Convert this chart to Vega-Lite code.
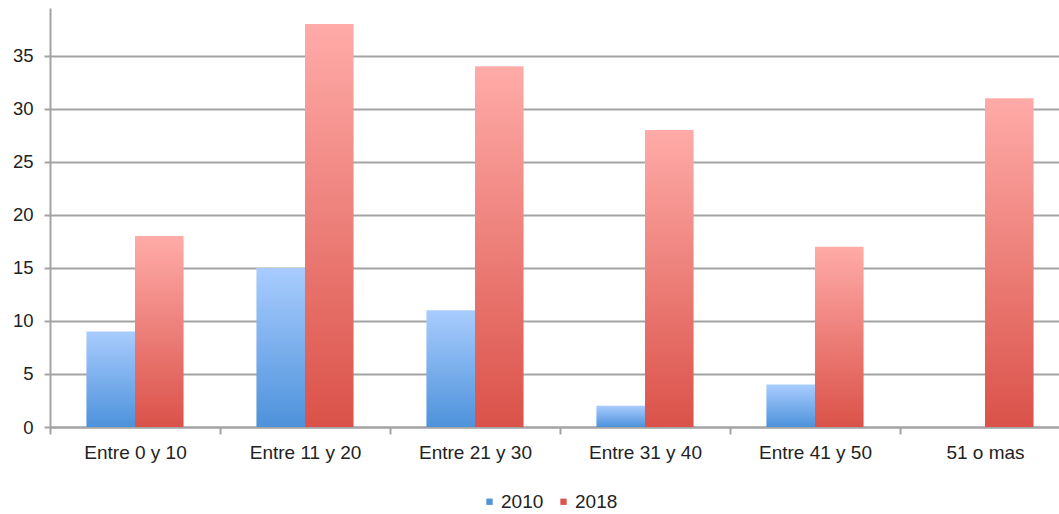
{
  "$schema": "https://vega.github.io/schema/vega-lite/v6.json",
  "width": 1020,
  "height": 419,
  "autosize": {"type": "none"},
  "padding": {"left": 50, "top": 8, "right": -11, "bottom": 87},
  "background": "white",
  "data": {
    "values": [
      {"grupo": "Entre 0 y 10", "anio": "2010", "valor": 9},
      {"grupo": "Entre 0 y 10", "anio": "2018", "valor": 18},
      {"grupo": "Entre 11 y 20", "anio": "2010", "valor": 15},
      {"grupo": "Entre 11 y 20", "anio": "2018", "valor": 38},
      {"grupo": "Entre 21 y 30", "anio": "2010", "valor": 11},
      {"grupo": "Entre 21 y 30", "anio": "2018", "valor": 34},
      {"grupo": "Entre 31 y 40", "anio": "2010", "valor": 2},
      {"grupo": "Entre 31 y 40", "anio": "2018", "valor": 28},
      {"grupo": "Entre 41 y 50", "anio": "2010", "valor": 4},
      {"grupo": "Entre 41 y 50", "anio": "2018", "valor": 17},
      {"grupo": "51 o mas", "anio": "2018", "valor": 31}
    ]
  },
  "encoding": {
    "x": {
      "field": "grupo",
      "type": "nominal",
      "sort": ["Entre 0 y 10", "Entre 11 y 20", "Entre 21 y 30", "Entre 31 y 40", "Entre 41 y 50", "51 o mas"],
      "scale": {"paddingInner": 0, "paddingOuter": 0},
      "axis": {
        "title": null,
        "labelAngle": 0,
        "tickBand": "extent",
        "tickSize": 7,
        "tickWidth": 2,
        "tickColor": "#a3a3a3",
        "domainColor": "#a3a3a3",
        "domainWidth": 2,
        "labelPadding": 9,
        "labelFontSize": 19,
        "labelColor": "#222222",
        "labelFont": "Liberation Sans"
      }
    },
    "xOffset": {
      "field": "anio",
      "type": "nominal",
      "scale": {"domain": ["2010", "2018"], "paddingInner": 0, "paddingOuter": 0.75}
    },
    "y": {
      "field": "valor",
      "type": "quantitative",
      "scale": {"domain": [0, 39.5], "nice": false},
      "axis": {
        "title": null,
        "values": [0, 5, 10, 15, 20, 25, 30, 35],
        "grid": true,
        "gridColor": "#a3a3a3",
        "gridWidth": 2,
        "domainColor": "#a3a3a3",
        "domainWidth": 2,
        "tickColor": "#a3a3a3",
        "tickWidth": 2,
        "tickSize": 6,
        "labelPadding": 11,
        "labelFontSize": 18.5,
        "labelColor": "#222222",
        "labelFont": "Liberation Sans"
      }
    }
  },
  "layer": [
    {
      "mark": {"type": "bar", "opacity": 0},
      "encoding": {
        "color": {
          "field": "anio",
          "type": "nominal",
          "scale": {"domain": ["2010", "2018"], "range": ["#4d92db", "#dc554c"]},
          "legend": {
            "title": null,
            "orient": "none",
            "direction": "horizontal",
            "legendX": 430,
            "legendY": 484,
            "symbolType": "square",
            "symbolSize": 40,
            "symbolOpacity": 1,
            "symbolStrokeWidth": 0,
            "labelFontSize": 19,
            "labelColor": "#222222",
            "labelFont": "Liberation Sans",
            "labelOffset": 2,
            "columnPadding": 10
          }
        }
      }
    },
    {
      "transform": [{"filter": "datum.anio == '2010'"}],
      "mark": {
        "type": "bar",
        "fill": {
          "gradient": "linear",
          "x1": 0, "y1": 0, "x2": 0, "y2": 1,
          "stops": [
            {"offset": 0, "color": "#a9ccfe"},
            {"offset": 1, "color": "#4d92db"}
          ]
        }
      }
    },
    {
      "transform": [{"filter": "datum.anio == '2018'"}],
      "mark": {
        "type": "bar",
        "fill": {
          "gradient": "linear",
          "x1": 0, "y1": 0, "x2": 0, "y2": 1,
          "stops": [
            {"offset": 0, "color": "#ffaba8"},
            {"offset": 1, "color": "#da5249"}
          ]
        }
      }
    }
  ],
  "config": {
    "view": {"stroke": null},
    "font": "Liberation Sans"
  }
}
